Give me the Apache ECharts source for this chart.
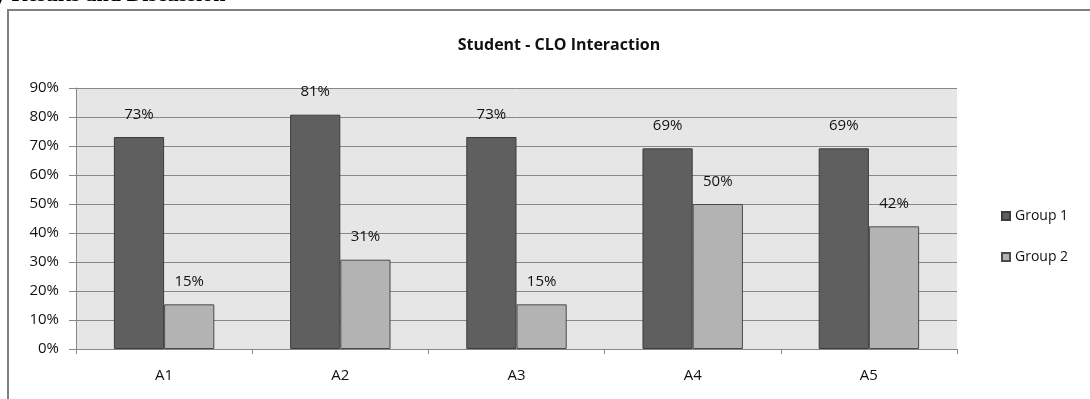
<!DOCTYPE html>
<html>
<head>
    <meta charset="utf-8">
    <title>Student - CLO Interaction</title>
    <script src="https://cdn.jsdelivr.net/npm/echarts@6/dist/echarts.min.js"></script>
    <style>
        html, body { margin: 0; padding: 0; background: #fff; }
        #main { width: 1090px; height: 399px; }
    </style>
</head>
<body>
<div id="main"></div>
<script>
    // data
    const categories = ['A1', 'A2', 'A3', 'A4', 'A5'];
    const group1 = [73.1, 80.8, 73.1, 69.2, 69.2];
    const group2 = [15.4, 30.8, 15.4, 50.0, 42.3];
    const seriesNames = ['Group 1', 'Group 2'];

    const font = '"Open Sans", "Liberation Sans", sans-serif';
    var myChart = echarts.init(document.getElementById('main'));

    var option = {
        backgroundColor: '#fff',
        animation: false,
        title: {
            text: 'Student - CLO Interaction',
            left: 554,
            top: 32,
            textAlign: 'center',
            textStyle: { fontFamily: font, fontSize: 16, fontWeight: 'bold', color: '#111' }
        },
        legend: {
            orient: 'vertical',
            left: 996,
            top: 204,
            itemWidth: 8,
            itemHeight: 8,
            itemGap: 27,
            icon: 'rect',
            textStyle: { fontFamily: font, fontSize: 14, color: '#111' },
            data: seriesNames
        },
        grid: { left: 76, right: 133, top: 88, bottom: 50, show: true, backgroundColor: '#e6e6e6', borderWidth: 0 },
        graphic: [
            {
                type: 'rect',
                shape: { x: 8, y: 10, width: 1100, height: 400 },
                style: { fill: 'none', stroke: '#808080', lineWidth: 2 },
                silent: true
            },
            {
                type: 'text',
                left: -5, top: -16,
                style: { text: 'y Results and Discussion', font: 'bold 22px "Liberation Serif", serif', fill: '#000' },
                silent: true
            }
        ],
        xAxis: {
            type: 'category',
            data: categories,
            axisLine: { lineStyle: { color: '#878787', width: 1 } },
            axisTick: { show: true, length: 5, lineStyle: { color: '#878787' } },
            axisLabel: { margin: 19, fontFamily: font, fontSize: 15, color: '#111' }
        },
        yAxis: {
            type: 'value',
            min: 0,
            max: 90,
            interval: 10,
            axisLine: { show: true, lineStyle: { color: '#878787', width: 1 } },
            axisTick: { show: true, length: 7, lineStyle: { color: '#878787' } },
            axisLabel: { margin: 17, formatter: '{value}%', fontFamily: font, fontSize: 15, color: '#111' },
            splitLine: { lineStyle: { color: '#878787', width: 1 } }
        },
        series: [
            {
                name: seriesNames[0],
                type: 'bar',
                data: group1,
                barGap: 0,
                barCategoryGap: '43%',
                itemStyle: { color: '#5f5f5f', borderColor: '#3c3c3c', borderWidth: 1 },
                label: {
                    show: true, position: 'top', distance: 15,
                    formatter: p => Math.round(p.value) + '%',
                    fontFamily: font, fontSize: 15, color: '#111'
                }
            },
            {
                name: seriesNames[1],
                type: 'bar',
                data: group2,
                itemStyle: { color: '#b3b3b3', borderColor: '#4a4a4a', borderWidth: 1 },
                label: {
                    show: true, position: 'top', distance: 15,
                    formatter: p => Math.round(p.value) + '%',
                    fontFamily: font, fontSize: 15, color: '#111'
                }
            }
        ]
    };
    myChart.setOption(option);
</script>
</body>
</html>
